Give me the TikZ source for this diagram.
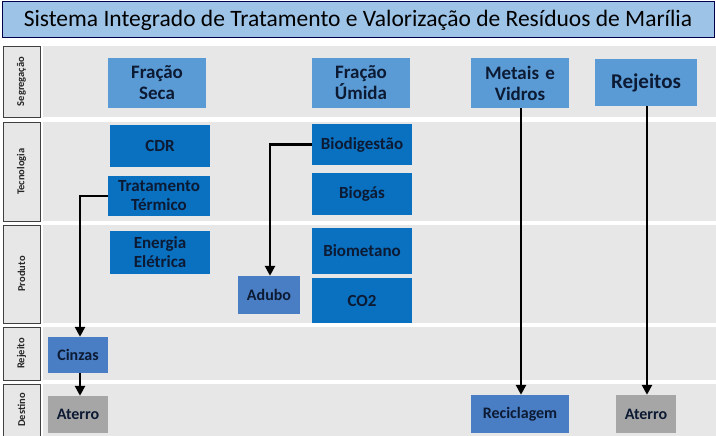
\documentclass[tikz,border=0pt]{standalone}
\usepackage{fontspec}
\setmainfont{Carlito}
\usetikzlibrary{arrows.meta}
\definecolor{titlebg}{HTML}{9DC3E6}
\definecolor{bandbg}{HTML}{E7E7E7}
\definecolor{lightb}{HTML}{5B9BD5}
\definecolor{darkb}{HTML}{0A70C0}
\definecolor{midb}{HTML}{4A7EC4}
\definecolor{grayb}{HTML}{A6A6A6}
\definecolor{txt}{HTML}{0C1A33}
\tikzset{
  box/.style={inner sep=0pt, align=center, text=txt, font=\bfseries\fontsize{17}{19}\selectfont},
  top/.style={box, font=\bfseries\fontsize{19}{21}\selectfont},
  low/.style={box, font=\bfseries\fontsize{16}{18}\selectfont},
  rowlab/.style={draw=black!75, line width=0.8pt, fill=bandbg, inner sep=0pt},
  rl/.style={rotate=90, font=\bfseries\fontsize{10.5}{12}\selectfont, text=black!85},
  conn/.style={line width=2.7pt, -{Triangle[length=10pt,width=10pt]}},
}
\begin{document}
\begin{tikzpicture}[x=1pt,y=-1pt]
\useasboundingbox (0,0) rectangle (716,436);
\fill[white] (0,0) rectangle (716,436);
% title
\node[draw=black!70!blue, line width=1pt, fill=titlebg, minimum width=712pt, minimum height=36pt, inner sep=0pt, font=\fontsize{23.5}{26}\selectfont] (title) at (358,20) {Sistema Integrado de Tratamento e Valorização de Resíduos de Marília};
% bands
\fill[bandbg] (43,46) rectangle (716,117);
\fill[bandbg] (43,122) rectangle (716,221);
\fill[bandbg] (43,225) rectangle (716,323);
\fill[bandbg] (43,327) rectangle (716,380);
\fill[bandbg] (43,384) rectangle (716,436);
% row labels
\draw[rowlab] (3,46) rectangle (40,117);
\draw[rowlab] (3,122) rectangle (40,221);
\draw[rowlab] (3,225) rectangle (40,323);
\draw[rowlab] (3,327) rectangle (40,380);
\draw[rowlab] (3,384) rectangle (40,437);
\node[rl] (lseg) at (21.5,81.5) {Segregação};
\node[rl] (ltec) at (21.5,171.5) {Tecnologia};
\node[rl] (lpro) at (21.5,274) {Produto};
\node[rl] (lrej) at (21.5,353.5) {Rejeito};
\node[rl] (ldes) at (21.5,410) {Destino};
% nodes
\node[top, fill=lightb, minimum width=98pt, minimum height=50pt, text width=98pt] (seca) at (157,83) {Fração\\Seca};
\node[top, fill=lightb, minimum width=98pt, minimum height=50pt, text width=98pt] (umida) at (361,83) {Fração\\Úmida};
\node[top, fill=lightb, minimum width=98pt, minimum height=50pt, text width=98pt] (metais) at (520,83) {Metais e\\Vidros};
\node[top, fill=lightb, minimum width=102pt, minimum height=47pt, text width=102pt, font=\bfseries\fontsize{21}{23}\selectfont] (rejeitos) at (646,82.5) {Rejeitos};
\node[box, fill=darkb, minimum width=100pt, minimum height=42pt, text width=100pt] (cdr) at (160,146) {CDR};
\node[box, fill=darkb, minimum width=102pt, minimum height=40pt, text width=102pt] (trat) at (159,196) {Tratamento\\Térmico};
\node[box, fill=darkb, minimum width=100pt, minimum height=43pt, text width=100pt] (energia) at (160,252.5) {Energia\\Elétrica};
\node[box, fill=darkb, minimum width=100pt, minimum height=41pt, text width=100pt] (biodig) at (362,144.5) {Biodigestão};
\node[box, fill=darkb, minimum width=100pt, minimum height=42pt, text width=100pt] (biogas) at (362,194) {Biogás};
\node[box, fill=darkb, minimum width=100pt, minimum height=46pt, text width=100pt] (biomet) at (362,251) {Biometano};
\node[box, fill=darkb, minimum width=100pt, minimum height=45pt, text width=100pt] (co2) at (362,300.5) {CO2};
\node[low, fill=midb, minimum width=62pt, minimum height=38pt, text width=62pt] (adubo) at (269,295) {Adubo};
\node[low, fill=midb, minimum width=60pt, minimum height=36pt, text width=60pt] (cinzas) at (78,355) {Cinzas};
\node[low, fill=grayb, minimum width=60pt, minimum height=37pt, text width=60pt] (aterro1) at (78,414.5) {Aterro};
\node[low, fill=midb, minimum width=98pt, minimum height=38pt, text width=98pt] (recic) at (520,414) {Reciclagem};
\node[low, fill=grayb, minimum width=60pt, minimum height=38pt, text width=60pt] (aterro2) at (646,414) {Aterro};
% connectors
\draw[conn] (trat.west) -| (cinzas.north -| 80,0);
\draw[conn] (cinzas.south -| 80,0) -- (aterro1.north -| 80,0);
\draw[conn] (biodig.west) -| (adubo.north -| 270,0);
\draw[conn] (metais.south -| 521,0) -- (recic.north -| 521,0);
\draw[conn] (rejeitos.south -| 647,0) -- (aterro2.north -| 647,0);
\end{tikzpicture}
\end{document}
